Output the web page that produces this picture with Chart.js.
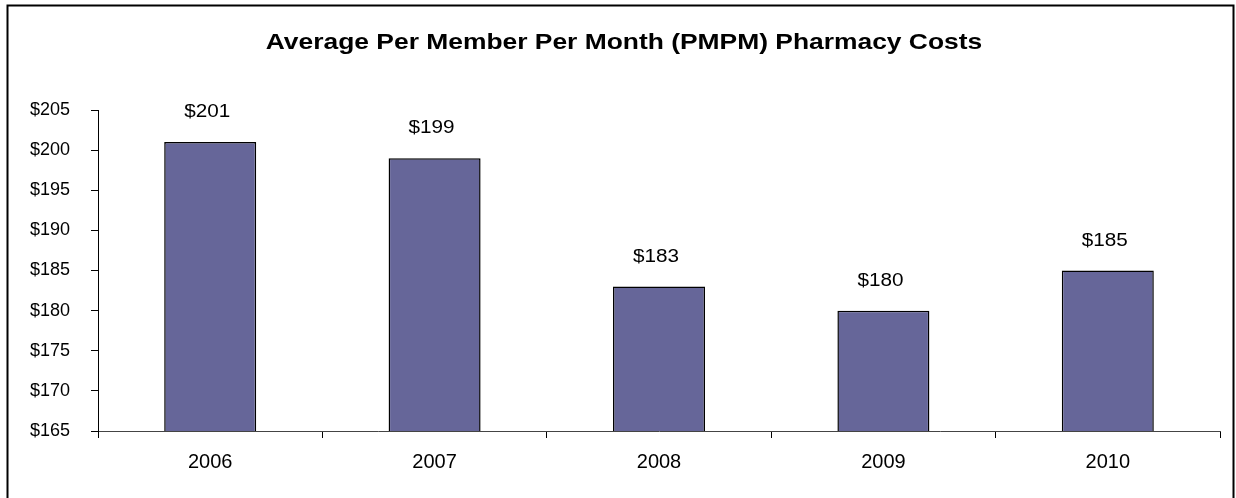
<!DOCTYPE html>
<html>
<head>
<meta charset='utf-8' />
<title>PMPM Pharmacy Costs</title>
<script src="https://cdn.jsdelivr.net/npm/chart.js"></script>
<style>
body { margin:0; padding:0; background:#FFFFFF; }
#wrap { width:1236px; height:498px; }
</style>
</head>
<body>
<div id="wrap"><canvas id="pmpmChart" width="1236" height="498"></canvas></div>
<script>

// data
const years = ["2006", "2007", "2008", "2009", "2010"];
const pmpmCosts = [201, 199, 183, 180, 185];
const chartTitle = "Average Per Member Per Month (PMPM) Pharmacy Costs";

const fontFamily = "'Liberation Sans', Arial, sans-serif";

// text in the original is a bit wide, stretch it horizontally
const stretchText = (ctx, text, x, y, sx) => {
  ctx.save();
  ctx.translate(x, y);
  ctx.scale(sx, 1);
  ctx.fillText(text, 0, 0);
  ctx.restore();
};

// frame + title + value labels
const decoPlugin = {
  id: 'deco',
  beforeDraw: (chart) => {
    const ctx = chart.ctx;
    ctx.save();
    ctx.fillStyle = '#FFFFFF';
    ctx.fillRect(0, 0, chart.width, chart.height);
    ctx.strokeStyle = '#000000';
    ctx.lineWidth = 2;
    ctx.strokeRect(7.5, 5.5, 1226, 600);
    ctx.restore();
  },
  afterDatasetsDraw: (chart) => {
    const ctx = chart.ctx;
    ctx.save();
    ctx.fillStyle = '#000000';
    ctx.font = "bold 22px " + fontFamily;
    ctx.textAlign = 'center';
    ctx.textBaseline = 'alphabetic';
    stretchText(ctx, chartTitle, 624, 49, 1.2);

    ctx.font = "18px " + fontFamily;
    const meta = chart.getDatasetMeta(0);
    meta.data.forEach((bar, i) => {
      stretchText(ctx, '$' + pmpmCosts[i], bar.x - 3, bar.y - 25, 1.15);
    });
    ctx.restore();
  }
};

const ctx = document.getElementById('pmpmChart');

const pmpmChart = new Chart(ctx, {
  type: 'bar',
  data: {
    labels: years,
    datasets: [{
      data: pmpmCosts,
      backgroundColor: '#666699',
      borderColor: '#000000',
      borderWidth: 1.5,
      borderSkipped: 'bottom',
      barPercentage: 0.41,
      categoryPercentage: 1.0
    }]
  },
  options: {
    responsive: false,
    animation: false,
    layout: {
      padding: { left: 0, top: 110, right: 16, bottom: 27 }
    },
    plugins: {
      legend: { display: false },
      title: { display: false },
      tooltip: { enabled: false }
    },
    scales: {
      x: {
        grid: {
          offset: true,
          drawOnChartArea: false,
          drawTicks: true,
          tickLength: 7,
          color: '#000000'
        },
        border: { display: true, color: '#444444', width: 1 },
        ticks: {
          color: '#000000',
          font: { family: fontFamily, size: 20 },
          padding: 12
        },
        afterFit: (axis) => { axis.height = 40; }
      },
      y: {
        min: 165,
        max: 205,
        grid: {
          drawOnChartArea: false,
          drawTicks: true,
          tickLength: 7,
          color: '#000000'
        },
        border: { display: true, color: '#000000', width: 1 },
        ticks: {
          stepSize: 5,
          color: '#000000',
          font: { family: fontFamily, size: 18 },
          padding: 21,
          callback: (value) => '$' + value
        },
        afterFit: (axis) => { axis.width = 98; }
      }
    }
  },
  plugins: [decoPlugin]
});

</script>
</body>
</html>
